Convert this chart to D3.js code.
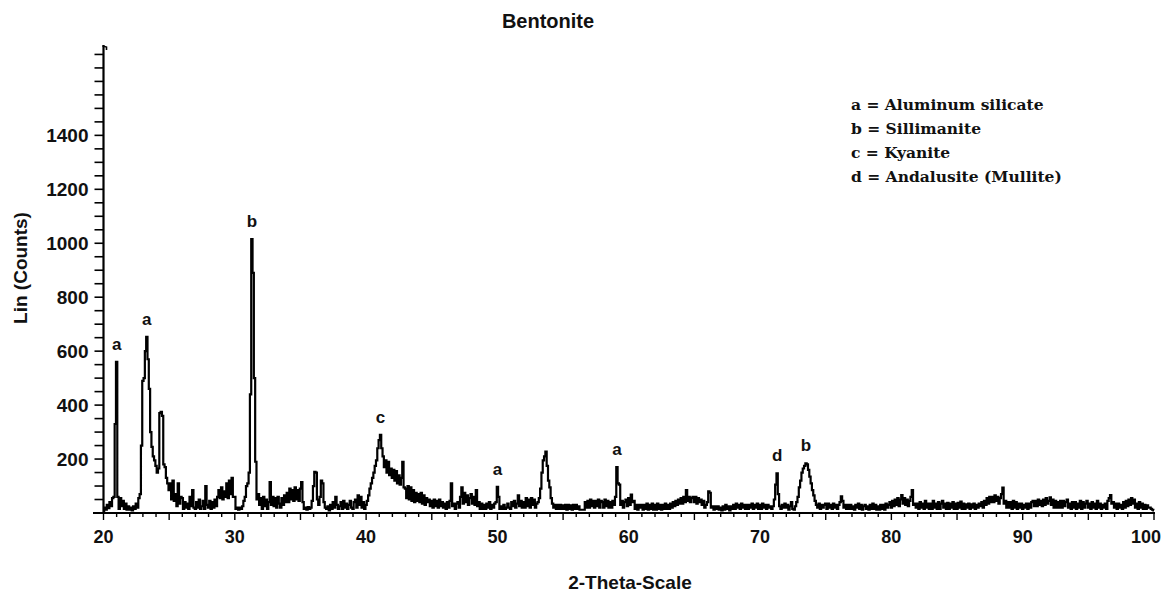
<!DOCTYPE html>
<html>
<head>
<meta charset="utf-8">
<script src="https://cdn.jsdelivr.net/npm/d3@7"></script>
<style>
  body { margin: 0; background: #fff; }
  svg text { font-family: "Liberation Sans", Arial, sans-serif; font-weight: bold; fill: #111; }
  svg text.legend { font-family: "DejaVu Serif", "Liberation Serif", serif; }
</style>
</head>
<body>
<svg id="chart" width="1162" height="593"></svg>
<script>
// Diffraction pattern: counts sampled every 0.1 degree 2-theta, from 20.0 to 100.0
const thetaStart = 20;
const thetaStep = 0.1;
const counts = [
  8,20,12,30,18,40,25,55,60,330,             // 20
  560,60,15,55,25,45,15,35,12,25,            // 21
  12,20,10,25,15,35,20,55,70,250,            // 22
  490,500,600,653,570,460,300,245,210,195,   // 23
  175,150,165,370,375,360,180,170,130,110,   // 24
  85,110,50,120,45,70,25,110,35,60,          // 25
  55,15,40,20,35,15,60,25,85,20,             // 26
  15,40,20,50,15,25,45,15,100,30,            // 27
  20,45,15,40,20,50,25,60,85,55,             // 28
  95,50,80,60,110,55,120,70,130,60,          // 29
  60,15,20,12,20,15,25,45,60,100,            // 30
  110,150,440,1015,890,500,190,50,70,30,     // 31
  55,15,60,25,50,15,40,115,30,60,            // 32
  25,55,20,60,35,20,55,30,65,40,             // 33
  75,40,90,50,85,45,95,50,85,45,             // 34
  90,115,40,15,20,12,22,15,20,45,            // 35
  100,153,150,50,30,60,120,110,40,20,        // 36
  15,25,10,30,15,40,20,60,30,15,             // 37
  25,40,15,45,20,35,15,30,45,20,             // 38
  15,40,50,20,65,30,60,20,40,15,             // 39
  30,45,65,90,110,130,150,175,195,240,       // 40
  270,290,240,210,170,195,150,190,140,165,   // 41
  130,160,120,155,110,140,105,130,190,95,    // 42
  90,55,100,50,95,45,85,40,75,45,            // 43
  70,40,75,35,65,30,55,40,50,25,             // 44
  45,20,50,25,45,20,50,25,40,20,             // 45
  35,15,40,20,45,110,25,35,15,35,            // 46
  40,20,60,95,35,75,40,65,30,55,             // 47
  70,35,60,30,85,25,40,15,35,15,             // 48
  30,15,35,20,40,15,30,20,35,40,             // 49
  97,60,15,25,15,30,15,20,35,20,             // 50
  15,40,25,45,20,35,65,25,45,20,             // 51
  40,20,55,25,50,20,55,30,50,20,             // 52
  35,40,55,90,150,195,210,228,175,120,       // 53
  95,55,35,20,30,15,30,15,30,15,             // 54
  28,15,30,12,30,15,28,12,30,15,             // 55
  30,15,25,12,12,12,12,40,20,45,             // 56
  20,50,25,45,20,45,25,50,20,45,             // 57
  40,20,50,25,45,20,40,20,45,30,             // 58
  60,170,110,105,30,45,20,40,50,25,          // 59
  55,30,68,40,45,15,30,12,30,20,             // 60
  30,12,30,15,35,12,30,15,35,12,             // 61
  30,12,35,15,30,12,30,15,35,15,             // 62
  30,15,35,20,40,25,45,30,50,35,             // 63
  55,35,60,40,85,45,60,40,55,60,             // 64
  40,60,35,55,40,50,30,45,20,30,             // 65
  40,80,75,20,25,12,25,15,25,12,             // 66
  20,10,25,12,30,15,25,10,25,15,             // 67
  30,15,35,20,30,15,35,20,30,15,             // 68
  30,15,30,20,35,15,30,20,35,15,             // 69
  30,15,35,20,30,15,30,20,25,15,             // 70
  25,50,105,147,70,25,15,30,20,35,           // 71
  20,30,12,25,40,15,12,25,40,60,             // 72
  95,120,150,165,175,184,180,160,135,110,    // 73
  85,65,45,30,20,35,15,30,20,30,             // 74
  35,15,35,20,30,15,35,20,30,15,             // 75
  30,40,62,45,20,30,15,30,15,30,             // 76
  15,25,12,30,20,35,15,30,12,25,             // 77
  30,15,25,12,30,15,35,15,30,12,             // 78
  25,12,30,15,30,12,35,20,30,40,             // 79
  20,45,25,50,30,55,25,50,66,35,             // 80
  55,30,50,25,45,60,85,30,35,20,             // 81
  35,15,40,20,35,15,45,20,35,15,             // 82
  35,15,45,20,35,15,40,15,35,45,             // 83
  20,35,15,38,15,35,20,40,15,35,             // 84
  15,38,20,42,15,35,15,32,20,35,             // 85
  15,32,20,35,15,30,20,35,25,40,             // 86
  20,45,30,55,35,60,40,60,40,65,             // 87
  45,60,35,55,70,94,35,45,20,40,             // 88
  20,40,15,45,20,40,15,35,20,35,             // 89
  15,30,20,35,15,35,20,40,45,25,             // 90
  45,25,50,30,45,25,50,30,55,35,             // 91
  45,58,30,50,20,45,20,40,20,45,             // 92
  20,45,25,40,50,20,35,15,40,20,             // 93
  40,15,35,20,45,15,40,20,35,45,             // 94
  20,35,15,40,20,35,15,45,20,35,             // 95
  15,30,20,35,15,45,55,66,35,40,             // 96
  20,35,15,35,20,30,15,40,20,45,             // 97
  25,50,30,55,35,50,20,35,15,40,             // 98
  20,35,15,30,15,28,20,20,15,12,             // 99
  10                                          // 100
];

const xTickLabels = [20, 30, 40, 50, 60, 70, 80, 90, 100];
const yTickLabels = [200, 400, 600, 800, 1000, 1200, 1400];

const peakLetters = ["a", "a", "b", "c", "a", "a", "d", "b"];
const peakTheta = [21.0, 23.3, 31.3, 41.1, 50.0, 59.1, 71.3, 73.5];

const legendLines = [
  "a = Aluminum silicate",
  "b = Sillimanite",
  "c = Kyanite",
  "d = Andalusite (Mullite)"
];

const chartTitle = "Bentonite";
const xTitle = "2-Theta-Scale";
const yTitle = "Lin (Counts)";

// ---- layout ----
const svg = d3.select("#chart");
const x = d3.scaleLinear().domain([20, 100]).range([103.5, 1154]);
const y = d3.scaleLinear().domain([0, 1735]).range([513, 45]);

const pattern = counts.map((c, i) => ({ t: thetaStart + i * thetaStep, c }));

// diffraction trace
svg.append("path")
  .datum(pattern)
  .attr("fill", "none")
  .attr("stroke", "#000")
  .attr("stroke-width", 2.2)
  .attr("stroke-linejoin", "miter")
  .attr("d", d3.line().x(d => x(d.t)).y(d => y(d.c)).curve(d3.curveStep));

// x axis: minor tick each degree, longer tick every five
const xAxis = svg.append("g").attr("transform", `translate(0,${y(0)})`);
xAxis.append("line")
  .attr("x1", 93).attr("x2", x(100) + 1)
  .attr("stroke", "#000").attr("stroke-width", 2.2);
xAxis.selectAll("line.tick")
  .data(d3.range(20, 101, 1))
  .join("line")
  .attr("class", "tick")
  .attr("x1", d => x(d)).attr("x2", d => x(d))
  .attr("y1", 0).attr("y2", d => d % 5 === 0 ? 7 : 4)
  .attr("stroke", "#000").attr("stroke-width", 1.4);
xAxis.selectAll("text")
  .data(xTickLabels)
  .join("text")
  .attr("x", d => x(d))
  .attr("y", 30)
  .attr("text-anchor", (d, i) => i === xTickLabels.length - 1 ? "end" : "middle")
  .attr("dx", (d, i) => i === xTickLabels.length - 1 ? 7 : 0)
  .attr("font-size", 18)
  .text(d => d);

// y axis: ticks every 50 counts, labels every 200
const yAxis = svg.append("g").attr("transform", `translate(${x(20)},0)`);
yAxis.append("line")
  .attr("y1", y(0)).attr("y2", 45)
  .attr("stroke", "#000").attr("stroke-width", 2.2);
yAxis.append("path")
  .attr("d", "M-1,46 L3,47 L3,50")
  .attr("fill", "none").attr("stroke", "#000").attr("stroke-width", 1.6);
yAxis.selectAll("line.tick")
  .data(d3.range(50, 1701, 50))
  .join("line")
  .attr("class", "tick")
  .attr("x1", -9).attr("x2", 0)
  .attr("y1", d => y(d)).attr("y2", d => y(d))
  .attr("stroke", "#000").attr("stroke-width", 1.6);
yAxis.selectAll("text")
  .data(yTickLabels)
  .join("text")
  .attr("x", -15)
  .attr("y", d => y(d))
  .attr("dy", "0.35em")
  .attr("text-anchor", "end")
  .attr("font-size", 19)
  .text(d => d);

// titles
svg.append("text")
  .attr("x", 548).attr("y", 28)
  .attr("text-anchor", "middle")
  .attr("font-size", 20)
  .text(chartTitle);
svg.append("text")
  .attr("x", 630).attr("y", 589)
  .attr("text-anchor", "middle")
  .attr("font-size", 19)
  .text(xTitle);
svg.append("text")
  .attr("transform", "translate(27,268) rotate(-90)")
  .attr("text-anchor", "middle")
  .attr("font-size", 19)
  .text(yTitle);

// phase letters above the peaks
const peakTop = t => d3.max(pattern.filter(d => Math.abs(d.t - t) <= 0.21), d => d.c);
svg.selectAll("text.peak")
  .data(peakLetters.map((s, i) => ({ s, t: peakTheta[i] })))
  .join("text")
  .attr("class", "peak")
  .attr("x", d => x(d.t))
  .attr("y", d => y(peakTop(d.t)) - 12)
  .attr("text-anchor", "middle")
  .attr("font-size", 17)
  .text(d => d.s);

// phase key
svg.selectAll("text.legend")
  .data(legendLines)
  .join("text")
  .attr("class", "legend")
  .attr("x", 851)
  .attr("y", (d, i) => 110 + i * 24)
  .attr("font-size", 15.5)
  .text(d => d);
</script>
</body>
</html>
